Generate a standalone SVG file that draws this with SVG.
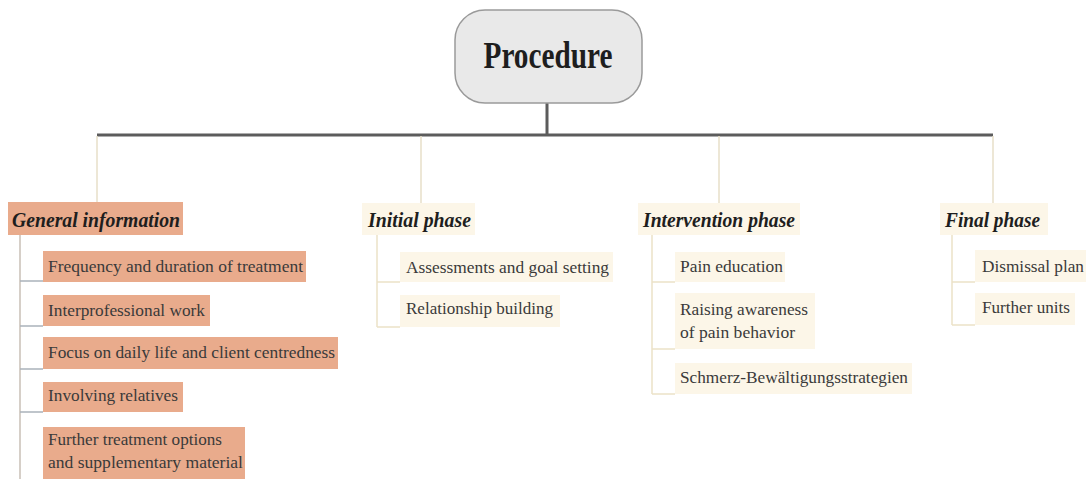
<svg xmlns="http://www.w3.org/2000/svg" width="1086" height="479" viewBox="0 0 1086 479">
<style>
.hdr{font-family:"Liberation Serif",serif;font-weight:bold;font-style:italic;font-size:22px;fill:#1e1e1e}
.txt{font-family:"Liberation Serif",serif;font-size:17px;fill:#3a3a3a}
.salmon{fill:#e9ab8c}
.cream{fill:#fcf6e8}
.main{stroke:#5c5c5c;stroke-width:3;fill:none}
.drop{stroke:#e8dfc9;stroke-width:1.5;fill:none}
.gbr{stroke:#c9bfb6;stroke-width:1.5;fill:none}
.gbr2{stroke:#aab3ba;stroke-width:1.5;fill:none}
.cbr{stroke:#ece2c8;stroke-width:1.5;fill:none}
</style>
<rect width="1086" height="479" fill="#ffffff"/>
<g id="connectors">
<path class="main" d="M547,103 V135 M97,135 H993"/>
<path class="drop" d="M97,136 V202 M421,136 V203 M719,136 V203 M993,136 V203"/>
<path class="gbr" d="M20,235 V479"/>
<path class="gbr2" d="M20,281 H43 M20,326 H43 M20,369 H43 M20,412 H43"/>
<path class="cbr" d="M377,235 V327 M377,282 H400 M377,327 H400"/>
<path class="cbr" d="M652,235 V394 M652,282 H675 M652,349 H675 M652,394 H675"/>
<path class="cbr" d="M952,235 V325 M952,282 H975 M952,325 H975"/>
</g>
<g id="procedure">
<rect x="455" y="10" width="187" height="93" rx="30" ry="30" fill="#e9e9e9" stroke="#9a9a9a" stroke-width="1.5"/>
<text x="548" y="68" text-anchor="middle" font-family="Liberation Serif, serif" font-weight="bold" font-size="37" fill="#1e1e1e" textLength="129" lengthAdjust="spacingAndGlyphs">Procedure</text>
</g>
<g id="general-information">
<rect class="salmon" x="8" y="202" width="175" height="33"/>
<text class="hdr" x="12" y="227" textLength="168" lengthAdjust="spacingAndGlyphs">General information</text>
</g>
<g id="frequency">
<rect class="salmon" x="43" y="251" width="263" height="31"/>
<text class="txt" x="48" y="272" textLength="255" lengthAdjust="spacingAndGlyphs">Frequency and duration of treatment</text>
</g>
<g id="interprofessional">
<rect class="salmon" x="43" y="295" width="167" height="31"/>
<text class="txt" x="48" y="316" textLength="157" lengthAdjust="spacingAndGlyphs">Interprofessional work</text>
</g>
<g id="focus">
<rect class="salmon" x="43" y="337" width="295" height="32"/>
<text class="txt" x="48" y="358" textLength="287" lengthAdjust="spacingAndGlyphs">Focus on daily life and client centredness</text>
</g>
<g id="involving">
<rect class="salmon" x="43" y="382" width="140" height="30"/>
<text class="txt" x="48" y="401" textLength="130" lengthAdjust="spacingAndGlyphs">Involving relatives</text>
</g>
<g id="further-treatment">
<rect class="salmon" x="43" y="427" width="202" height="52"/>
<text class="txt" x="48" y="445" textLength="174" lengthAdjust="spacingAndGlyphs">Further treatment options</text>
<text class="txt" x="48" y="468" textLength="195" lengthAdjust="spacingAndGlyphs">and supplementary material</text>
</g>
<g id="initial-phase">
<rect class="cream" x="362" y="203" width="113" height="32"/>
<text class="hdr" x="368" y="227" textLength="103" lengthAdjust="spacingAndGlyphs">Initial phase</text>
</g>
<g id="assessments">
<rect class="cream" x="400" y="252" width="213" height="30"/>
<text class="txt" x="406" y="273" textLength="203" lengthAdjust="spacingAndGlyphs">Assessments and goal setting</text>
</g>
<g id="relationship">
<rect class="cream" x="400" y="295" width="160" height="32"/>
<text class="txt" x="406" y="314" textLength="147" lengthAdjust="spacingAndGlyphs">Relationship building</text>
</g>
<g id="intervention-phase">
<rect class="cream" x="638" y="203" width="162" height="32"/>
<text class="hdr" x="643" y="227" textLength="152" lengthAdjust="spacingAndGlyphs">Intervention phase</text>
</g>
<g id="pain-education">
<rect class="cream" x="675" y="252" width="110" height="30"/>
<text class="txt" x="680" y="272" textLength="103" lengthAdjust="spacingAndGlyphs">Pain education</text>
</g>
<g id="raising-awareness">
<rect class="cream" x="675" y="293" width="140" height="56"/>
<text class="txt" x="680" y="315" textLength="128" lengthAdjust="spacingAndGlyphs">Raising awareness</text>
<text class="txt" x="680" y="338" textLength="115" lengthAdjust="spacingAndGlyphs">of pain behavior</text>
</g>
<g id="schmerz">
<rect class="cream" x="675" y="363" width="237" height="31"/>
<text class="txt" x="680" y="383" textLength="228" lengthAdjust="spacingAndGlyphs">Schmerz-Bewältigungsstrategien</text>
</g>
<g id="final-phase">
<rect class="cream" x="940" y="203" width="108" height="32"/>
<text class="hdr" x="945" y="227" textLength="95" lengthAdjust="spacingAndGlyphs">Final phase</text>
</g>
<g id="dismissal">
<rect class="cream" x="975" y="250" width="111" height="32"/>
<text class="txt" x="982" y="272" textLength="102" lengthAdjust="spacingAndGlyphs">Dismissal plan</text>
</g>
<g id="further-units">
<rect class="cream" x="975" y="293" width="100" height="32"/>
<text class="txt" x="982" y="313" textLength="88" lengthAdjust="spacingAndGlyphs">Further units</text>
</g>
</svg>
